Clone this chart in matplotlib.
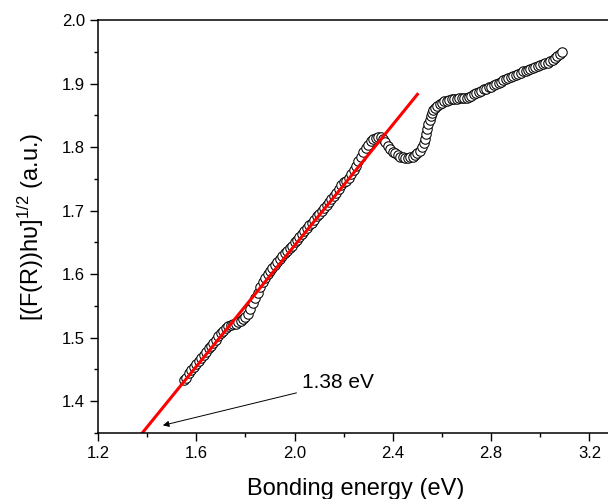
import matplotlib
matplotlib.use('Agg')
import matplotlib.pyplot as plt
from matplotlib.ticker import MultipleLocator

plt.rcParams['font.family'] = ['Liberation Sans', 'DejaVu Sans']
plt.rcParams['mathtext.fontset'] = 'custom'
plt.rcParams['mathtext.rm'] = 'Liberation Sans'
plt.rcParams['mathtext.it'] = 'Liberation Sans:italic'

energy = [1.55, 1.56, 1.57, 1.58, 1.59, 1.60, 1.61, 1.62, 1.63, 1.64,
          1.65, 1.66, 1.67, 1.68, 1.69, 1.70, 1.71, 1.72, 1.73, 1.74,
          1.75, 1.76, 1.77, 1.78, 1.79, 1.80, 1.81, 1.82, 1.83, 1.84,
          1.85, 1.86, 1.87, 1.88, 1.89, 1.90, 1.91, 1.92, 1.93, 1.94,
          1.95, 1.96, 1.97, 1.98, 1.99, 2.00, 2.01, 2.02, 2.03, 2.04,
          2.05, 2.06, 2.07, 2.08, 2.09, 2.10, 2.11, 2.12, 2.13, 2.14,
          2.15, 2.16, 2.17, 2.18, 2.19, 2.20, 2.21, 2.22, 2.23, 2.24,
          2.25, 2.26, 2.27, 2.28, 2.29, 2.30, 2.31, 2.32, 2.33, 2.34,
          2.35, 2.36, 2.37, 2.38, 2.39, 2.40, 2.41, 2.42, 2.43, 2.44,
          2.45, 2.46, 2.47, 2.48, 2.49, 2.50, 2.51, 2.52, 2.525, 2.53,
          2.535, 2.54, 2.545, 2.55, 2.555, 2.56, 2.565, 2.57, 2.58, 2.59,
          2.60, 2.61, 2.62, 2.63, 2.64, 2.65, 2.66, 2.67, 2.68, 2.69,
          2.70, 2.71, 2.72, 2.73, 2.74, 2.75, 2.76, 2.77, 2.78, 2.79,
          2.80, 2.81, 2.82, 2.83, 2.84, 2.85, 2.86, 2.87, 2.88, 2.89,
          2.90, 2.91, 2.92, 2.93, 2.94, 2.95, 2.96, 2.97, 2.98, 2.99,
          3.00, 3.01, 3.02, 3.03, 3.04, 3.05, 3.06, 3.07, 3.08, 3.09]
signal = [1.434, 1.437, 1.444, 1.449, 1.454, 1.459, 1.463, 1.468, 1.473, 1.478,
          1.483, 1.487, 1.492, 1.497, 1.502, 1.507, 1.511, 1.515, 1.518, 1.520,
          1.521, 1.522, 1.524, 1.526, 1.529, 1.532, 1.537, 1.545, 1.554, 1.563,
          1.571, 1.579, 1.587, 1.594, 1.600, 1.605, 1.610, 1.614, 1.619, 1.624,
          1.629, 1.633, 1.637, 1.641, 1.645, 1.650, 1.654, 1.659, 1.663, 1.668,
          1.672, 1.677, 1.681, 1.686, 1.691, 1.695, 1.700, 1.704, 1.709, 1.713,
          1.718, 1.723, 1.728, 1.734, 1.741, 1.745, 1.747, 1.751, 1.757, 1.764,
          1.771, 1.778, 1.785, 1.792, 1.798, 1.804, 1.809, 1.812, 1.815, 1.816,
          1.816, 1.813, 1.808, 1.802, 1.797, 1.793, 1.790, 1.787, 1.785, 1.784,
          1.783, 1.783, 1.784, 1.785, 1.787, 1.790, 1.794, 1.800, 1.806, 1.813,
          1.820, 1.828, 1.836, 1.843, 1.849, 1.854, 1.858, 1.861, 1.865, 1.868,
          1.870, 1.872, 1.873, 1.874, 1.875, 1.876, 1.876, 1.877, 1.877, 1.878,
          1.878, 1.879, 1.881, 1.883, 1.885, 1.887, 1.889, 1.891, 1.892, 1.894,
          1.895, 1.897, 1.899, 1.901, 1.903, 1.905, 1.907, 1.909, 1.910, 1.912,
          1.913, 1.915, 1.917, 1.919, 1.920, 1.922, 1.923, 1.925, 1.926, 1.928,
          1.929, 1.930, 1.932, 1.933, 1.935, 1.937, 1.940, 1.943, 1.946, 1.950]

# Linear fit (Tauc extrapolation)
fit_x = [1.38, 2.50]
fit_y = [1.35, 1.883]

gap_label = '1.38 eV'

fig = plt.figure(figsize=(6.08, 4.99), dpi=100)
ax = fig.add_axes([98 / 608, 66 / 499, 516 / 608, 413 / 499])

ax.plot(energy, signal, linestyle='none', marker='o', markersize=6.8,
        markerfacecolor='white', markeredgecolor='black', markeredgewidth=0.75)
ax.plot(fit_x, fit_y, color='red', linewidth=2.2)

ax.annotate(gap_label, xy=(1.464, 1.362), xytext=(2.03, 1.429),
            fontsize=15, va='center', ha='left',
            arrowprops=dict(arrowstyle='-|>', color='black', lw=0.7,
                            mutation_scale=9, shrinkA=2, shrinkB=0))

ax.set_xlim(1.2, 3.3)
ax.set_ylim(1.35, 2.0)
ax.xaxis.set_major_locator(MultipleLocator(0.4))
ax.xaxis.set_minor_locator(MultipleLocator(0.2))
ax.yaxis.set_major_locator(MultipleLocator(0.1))
ax.yaxis.set_minor_locator(MultipleLocator(0.05))
ax.xaxis.set_major_formatter(plt.FuncFormatter(lambda v, p: f'{v:.1f}'))
ax.yaxis.set_major_formatter(plt.FuncFormatter(lambda v, p: f'{v:.1f}'))
ax.tick_params(which='major', direction='out', length=6, width=1, labelsize=12)
ax.tick_params(which='minor', direction='out', length=3, width=1)
ax.tick_params(top=False, right=False)
for s in ax.spines.values():
    s.set_linewidth(1.1)

ax.set_xlabel('Bonding energy (eV)', fontsize=17, labelpad=12)
ax.set_ylabel('[(F(R))h\u03c5]$^{1/2}$ (a.u.)', fontsize=17, labelpad=11)

plt.savefig('out.png', dpi=100)
